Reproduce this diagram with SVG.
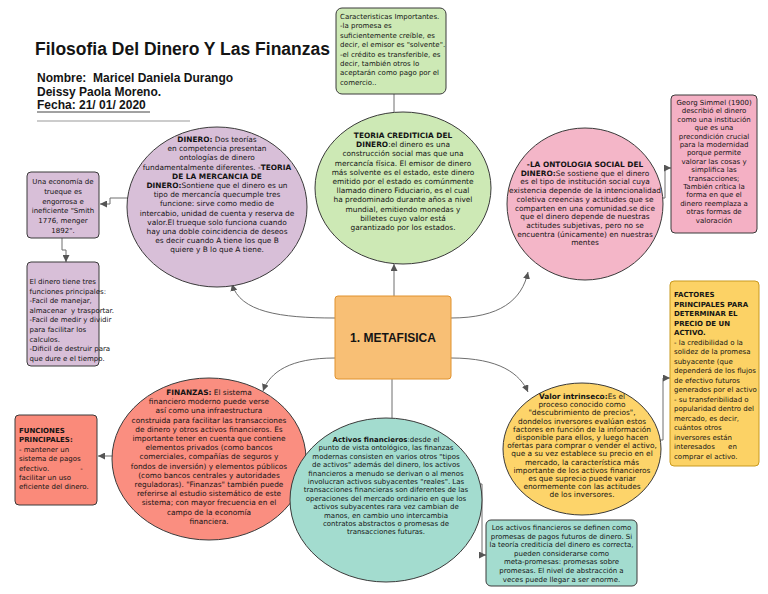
<svg xmlns="http://www.w3.org/2000/svg" width="768" height="594" viewBox="0 0 768 594">
<style>
.t{font-family:"DejaVu Sans","Liberation Sans",sans-serif;font-size:7.4px;fill:#141414;text-anchor:middle}
.s{font-size:7px}
.l{text-anchor:start}
.b{font-weight:bold}
.h{font-family:"Liberation Sans",Arial,sans-serif;font-weight:bold;fill:#141414;white-space:pre}
.c{stroke:#3a3a3a;stroke-width:1}
.cn{fill:none;stroke:#6e6e6e;stroke-width:1}
</style>
<defs>
<marker id="a" markerWidth="8" markerHeight="7" refX="7" refY="3.5" orient="auto" markerUnits="userSpaceOnUse">
<path d="M0,0 L7,3.5 L0,7 z" fill="#555"/>
</marker>
</defs>
<rect width="768" height="594" fill="#ffffff"/>

<g id="title">
<text class="h" x="35" y="55" font-size="17.5">Filosofia Del Dinero Y Las Finanzas</text>
<text class="h" x="37" y="82" font-size="12">Nombre:  Maricel Daniela Durango</text>
<text class="h" x="37" y="96" font-size="12">Deissy Paola Moreno.</text>
<text class="h" x="37" y="109" font-size="12">Fecha: 21/ 01/ 2020</text>
<line x1="37" y1="112" x2="150" y2="112" stroke="#444" stroke-width="1"/>
<line x1="37" y1="121" x2="190" y2="121" stroke="#999" stroke-width="1"/>
</g>

<g id="connectors">
<path class="cn" d="M394 94 L394 112"/>
<path class="cn" d="M394 296 L394 264" marker-end="url(#a)"/>
<path class="cn" d="M335 318 C280 318 240 312 232 284" marker-end="url(#a)"/>
<path class="cn" d="M451 318 C500 318 522 300 528 272" marker-end="url(#a)"/>
<path class="cn" d="M335 358 C290 358 270 372 263 391" marker-end="url(#a)"/>
<path class="cn" d="M392 379 L392 418"/>
<path class="cn" d="M451 358 C500 358 520 374 528 392" marker-end="url(#a)"/>
<path class="cn" d="M129 198 L110 198 L110 204 L100 204" marker-end="url(#a)"/>
<path class="cn" d="M62 238 L62 250 L66 250 L66 262" marker-end="url(#a)"/>
<path class="cn" d="M660 198 L665 198 L665 168 L671 168" marker-end="url(#a)"/>
<path class="cn" d="M113 456 L98 456" marker-end="url(#a)"/>
<path class="cn" d="M480 484 L482 484 L482 555 L486 555" marker-end="url(#a)"/>
<path class="cn" d="M658 440 L663 440 L663 378 L670 378" marker-end="url(#a)"/>
</g>

<g id="caracteristicas">
<rect x="336" y="8" width="110" height="86" rx="6" fill="#cde9b5" class="c"/>
<text class="t s l"><tspan x="340" y="19">Caracteristicas Importantes.</tspan><tspan x="340" y="28.4">-la promesa es</tspan><tspan x="340" y="37.8">suficientemente creíble, es</tspan><tspan x="340" y="47.2">decir, el emisor es "solvente".</tspan><tspan x="340" y="56.6">-el crédito es transferible, es</tspan><tspan x="340" y="66">decir, también otros lo</tspan><tspan x="340" y="75.4">aceptarán como pago por el</tspan><tspan x="340" y="84.8">comercio..</tspan></text>
</g>

<g id="dinero">
<ellipse cx="217" cy="207" rx="90" ry="80" fill="#d8bfd8" class="c"/>
<text class="t"><tspan x="217" y="142"><tspan class="b">DINERO:</tspan> Dos teorías</tspan><tspan x="217" y="151.2">en competencia presentan</tspan><tspan x="217" y="160.4">ontologías de dinero</tspan><tspan x="217" y="169.6">fundamentalmente diferentes. -<tspan class="b">TEORIA</tspan></tspan><tspan x="217" y="178.8" class="b">DE LA MERCANCIA DE</tspan><tspan x="217" y="188"><tspan class="b">DINERO:</tspan>Sontiene que el dinero es un</tspan><tspan x="217" y="197.2">tipo de mercancía quecumple tres</tspan><tspan x="217" y="206.4">funcione: sirve como medio de</tspan><tspan x="217" y="215.6">intercabio, unidad de cuenta y reserva de</tspan><tspan x="217" y="224.8">valor.El trueque solo funciona cuando</tspan><tspan x="217" y="234">hay una doble coincidencia de deseos</tspan><tspan x="217" y="243.2">es decir cuando A tiene los que B</tspan><tspan x="217" y="252.4">quiere y B lo que A tiene.</tspan></text>
</g>

<g id="crediticia">
<ellipse cx="403" cy="188" rx="88" ry="76" fill="#cde9b5" class="c"/>
<text class="t"><tspan x="403" y="138" class="b">TEORIA CREDITICIA DEL</tspan><tspan x="403" y="147.2"><tspan class="b">DINERO</tspan>:el dinero es una</tspan><tspan x="403" y="156.4">construcción social mas que una</tspan><tspan x="403" y="165.6">mercancía física. El emisor de dinero</tspan><tspan x="403" y="174.8">más solvente es el estado, este dinero</tspan><tspan x="403" y="184">emitido por el estado es comúnmente</tspan><tspan x="403" y="193.2">llamado dinero Fiduciario, es el cual</tspan><tspan x="403" y="202.4">ha predominado durante años a nivel</tspan><tspan x="403" y="211.6">mundial, emitiendo  monedas y</tspan><tspan x="403" y="220.8">billetes cuyo valor está</tspan><tspan x="403" y="230">garantizado por los estados.</tspan></text>
</g>

<g id="ontologia">
<ellipse cx="585" cy="204" rx="78" ry="76" fill="#f4b6c8" class="c"/>
<text class="t"><tspan x="585" y="167" class="b">-LA ONTOLOGIA SOCIAL DEL</tspan><tspan x="585" y="175.7"><tspan class="b">DINERO:</tspan>Se sostiene que el dinero</tspan><tspan x="585" y="184.4">es el tipo de institución social cuya</tspan><tspan x="585" y="193.1">existencia depende de la intencionalidad</tspan><tspan x="585" y="201.8">coletiva creencias y actitudes que se</tspan><tspan x="585" y="210.5">comparten en una comunidad.se dice</tspan><tspan x="585" y="219.2">que el dinero depende de nuestras</tspan><tspan x="585" y="227.9">actitudes subjetivas, pero no se</tspan><tspan x="585" y="236.6">encuentra (únicamente) en nuestras</tspan><tspan x="585" y="245.3">mentes</tspan></text>
</g>

<g id="simmel">
<rect x="671" y="95" width="86" height="138" rx="4" fill="#f4b0c4" class="c"/>
<text class="t s"><tspan x="714" y="105">Georg Simmel (1900)</tspan><tspan x="714" y="113.4">describió el dinero</tspan><tspan x="714" y="121.8">como una institución</tspan><tspan x="714" y="130.2">que es una</tspan><tspan x="714" y="138.6">precondición crucial</tspan><tspan x="714" y="147">para la modernidad</tspan><tspan x="714" y="155.4">porque permite</tspan><tspan x="714" y="163.8">valorar las cosas y</tspan><tspan x="714" y="172.2">simplifica las</tspan><tspan x="714" y="180.6">transacciones;</tspan><tspan x="714" y="189">También crítica la</tspan><tspan x="714" y="197.4">forma en que el</tspan><tspan x="714" y="205.8">dinero reemplaza a</tspan><tspan x="714" y="214.2">otras formas de</tspan><tspan x="714" y="222.6">valoración</tspan></text>
</g>

<g id="trueque">
<rect x="27" y="172" width="72" height="66" rx="4" fill="#d8bfd8" class="c"/>
<text class="t s"><tspan x="63" y="184">Una economía de</tspan><tspan x="63" y="193.8">trueque es</tspan><tspan x="63" y="203.6">engorrosa e</tspan><tspan x="63" y="213.4">ineficiente "Smith</tspan><tspan x="63" y="223.2">1776, menger</tspan><tspan x="63" y="233">1892".</tspan></text>
</g>

<g id="funciones">
<rect x="27" y="262" width="72" height="104" rx="4" fill="#d8bfd8" class="c"/>
<text class="t s l"><tspan x="29.5" y="284">El dinero tiene tres</tspan><tspan x="29.5" y="293.6">funciones principales:</tspan><tspan x="29.5" y="303.2">-Facil de manejar,</tspan><tspan x="29.5" y="312.8" style="white-space:pre">almacenar  y trasportar.</tspan><tspan x="29.5" y="322.4">-Facil de medir y dividir</tspan><tspan x="29.5" y="332">para facilitar los</tspan><tspan x="29.5" y="341.6">calculos.</tspan><tspan x="29.5" y="351.2">-Dificil de destruir para</tspan><tspan x="29.5" y="360.8">que dure e el tiempo.</tspan></text>
</g>

<g id="metafisica">
<rect x="335" y="296" width="116" height="83" rx="3" fill="#f8bf75" stroke="#e0922e" stroke-width="1"/>
<text class="h" x="393" y="342" font-size="12" text-anchor="middle">1. METAFISICA</text>
</g>

<g id="finanzas">
<ellipse cx="209" cy="459" rx="97" ry="81" fill="#fa8e80" class="c"/>
<text class="t"><tspan x="209" y="395"><tspan class="b">FINANZAS:</tspan> El sistema</tspan><tspan x="209" y="404.2">financiero moderno puede verse</tspan><tspan x="209" y="413.4">así como una infraestructura</tspan><tspan x="209" y="422.6">construida para facilitar las transacciones</tspan><tspan x="209" y="431.8">de dinero y otros activos financieros. Es</tspan><tspan x="209" y="441">importante tener en cuenta que contiene</tspan><tspan x="209" y="450.2">elementos privados (como bancos</tspan><tspan x="209" y="459.4">comerciales, compañías de seguros y</tspan><tspan x="209" y="468.6">fondos de inversión) y elementos públicos</tspan><tspan x="209" y="477.8">(como bancos centrales y autoridades</tspan><tspan x="209" y="487">reguladoras). "Finanzas" también puede</tspan><tspan x="209" y="496.2">referirse al estudio sistemático de este</tspan><tspan x="209" y="505.4">sistema; con mayor frecuencia en el</tspan><tspan x="209" y="514.6">campo de la economía</tspan><tspan x="209" y="523.8">financiera.</tspan></text>
</g>

<g id="funciones-principales">
<rect x="15" y="415" width="82" height="90" rx="4" fill="#fa8a7a" class="c"/>
<text class="t s l"><tspan x="19" y="433" class="b">FUNCIONES</tspan><tspan x="19" y="442.4" class="b">PRINCIPALES:</tspan><tspan x="19" y="451.8">- mantener un</tspan><tspan x="19" y="461.2">sistema de pagos</tspan><tspan x="19" y="470.6" style="white-space:pre">efectivo.              -</tspan><tspan x="19" y="480">facilitar un uso</tspan><tspan x="19" y="489.4">eficiente del dinero.</tspan></text>
</g>

<g id="activos">
<ellipse cx="386" cy="500" rx="96" ry="82" fill="#a3dccf" class="c"/>
<text class="t s"><tspan x="386" y="442"><tspan class="b">Activos financieros</tspan>:desde el</tspan><tspan x="386" y="450.4">punto de vista ontológico,  las finanzas</tspan><tspan x="386" y="458.8">modernas consisten en varios otros "tipos</tspan><tspan x="386" y="467.2">de activos" además del dinero,  los activos</tspan><tspan x="386" y="475.6">financieros a menudo se derivan o al menos</tspan><tspan x="386" y="484">involucran activos subyacentes "reales". Las</tspan><tspan x="386" y="492.4">transacciones financieras son diferentes de las</tspan><tspan x="386" y="500.8">operaciones del mercado ordinario en que los</tspan><tspan x="386" y="509.2">activos subyacentes rara vez cambian de</tspan><tspan x="386" y="517.6">manos, en cambio uno intercambia</tspan><tspan x="386" y="526">contratos abstractos o promesas de</tspan><tspan x="386" y="534.4">transacciones futuras.</tspan></text>
</g>

<g id="promesas">
<rect x="486" y="520" width="151" height="66" rx="5" fill="#a3dccf" class="c"/>
<text class="t s"><tspan x="561.5" y="530">Los activos financieros se definen como</tspan><tspan x="561.5" y="538.6">promesas de pagos futuros de dinero. Si</tspan><tspan x="561.5" y="547.2">la teoría crediticia del dinero es correcta,</tspan><tspan x="561.5" y="555.8">pueden considerarse como</tspan><tspan x="561.5" y="564.4">meta-promesas: promesas sobre</tspan><tspan x="561.5" y="573">promesas. El nivel de abstracción a</tspan><tspan x="561.5" y="581.6">veces puede llegar a ser enorme.</tspan></text>
</g>

<g id="valor">
<ellipse cx="582" cy="449" rx="79" ry="66" fill="#fdd46a" class="c"/>
<text class="t"><tspan x="582" y="399"><tspan class="b">Valor intrinseco:</tspan>Es el</tspan><tspan x="582" y="407.2">proceso conocido como</tspan><tspan x="582" y="415.4">"descubrimiento de precios",</tspan><tspan x="582" y="423.6">dondelos inversores evalúan estos</tspan><tspan x="582" y="431.8">factores en función de la información</tspan><tspan x="582" y="440">disponible para ellos, y luego hacen</tspan><tspan x="582" y="448.2">ofertas para comprar o vender el activo,</tspan><tspan x="582" y="456.4">que a su vez establece su precio en el</tspan><tspan x="582" y="464.6">mercado, la característica más</tspan><tspan x="582" y="472.8">importante de los activos financieros</tspan><tspan x="582" y="481">es que suprecio puede variar</tspan><tspan x="582" y="489.2">enormemente con las actitudes</tspan><tspan x="582" y="497.4">de los inversores.</tspan></text>
</g>

<g id="factores">
<rect x="670" y="281" width="89" height="185" rx="4" fill="#fcd265" stroke="#c99a20" stroke-width="1"/>
<text class="t s l"><tspan x="674" y="297" class="b">FACTORES</tspan><tspan x="674" y="306.5" class="b">PRINCIPALES PARA</tspan><tspan x="674" y="316" class="b">DETERMINAR EL</tspan><tspan x="674" y="325.5" class="b">PRECIO DE UN</tspan><tspan x="674" y="335" class="b">ACTIVO.</tspan><tspan x="674" y="344.5">- la credibilidad o la</tspan><tspan x="674" y="354">solidez de la promesa</tspan><tspan x="674" y="363.5">subyacente (que</tspan><tspan x="674" y="373">dependerá de los flujos</tspan><tspan x="674" y="382.5">de efectivo futuros</tspan><tspan x="674" y="392">generados por el activo</tspan><tspan x="674" y="401.5">- su transferibilidad o</tspan><tspan x="674" y="411">popularidad dentro del</tspan><tspan x="674" y="420.5">mercado, es decir,</tspan><tspan x="674" y="430">cuántos otros</tspan><tspan x="674" y="439.5">inversores están</tspan><tspan x="674" y="449" style="white-space:pre">interesados      en</tspan><tspan x="674" y="458.5">comprar el activo.</tspan></text>
</g>
</svg>
